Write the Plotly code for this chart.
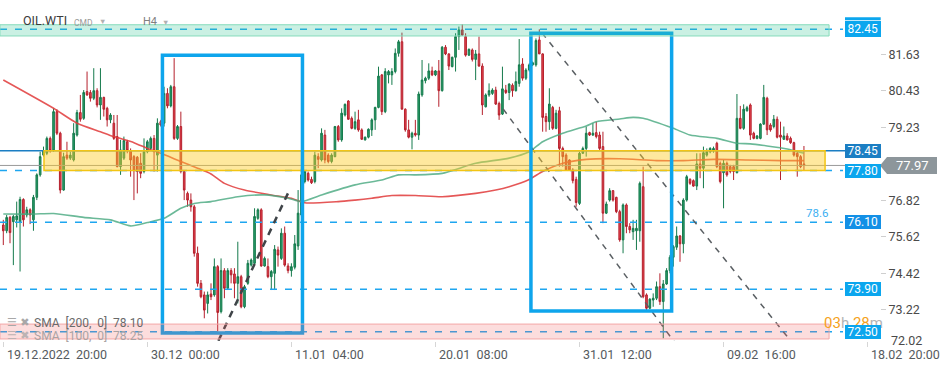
import plotly.graph_objects as go

# ---------------- data ----------------
bar_index = list(range(240))  # H4 bars, 0 = 19.12.2022 20:00

opens = [
    76.01, 75.82, 76.26, 76.12, 76.18, 76.12, 76.85, 76.34, 76.51, 76.18,
    76.92, 77.66, 78.31, 78.37, 78.86, 78.48, 79.74, 79.03, 77.16, 78.31,
    78.21, 78.15, 78.97, 79.71, 79.52, 80.40, 80.37, 80.18, 80.43, 79.96,
    80.21, 79.85, 79.47, 79.36, 78.92, 77.93, 78.21, 78.75, 78.46, 78.26,
    78.24, 78.04, 77.77, 78.42, 78.53, 78.86, 78.31, 79.41, 79.36, 80.34,
    79.93, 80.56, 78.86, 79.25, 77.77, 77.05, 76.83, 76.61, 75.08, 74.09,
    73.71, 73.43, 73.74, 73.71, 74.64, 73.16, 74.51, 73.93, 74.51, 74.40,
    74.09, 74.31, 73.32, 74.09, 74.69, 74.75, 76.23, 76.51, 74.66, 74.64,
    74.31, 74.42, 75.19, 74.91, 75.74, 74.66, 74.51, 74.62, 75.32, 76.34,
    77.44, 77.71, 77.51, 77.44, 78.26, 78.15, 78.97, 78.31, 78.10, 78.26,
    79.25, 78.81, 79.63, 80.09, 79.52, 79.19, 79.47, 79.14, 78.81, 78.90,
    79.14, 79.47, 79.88, 80.95, 79.74, 80.95, 80.95, 81.06, 81.66, 82.04,
    79.82, 79.14, 78.90, 79.03, 78.97, 80.29, 80.76, 80.84, 81.08, 80.95,
    81.08, 80.43, 81.86, 81.64, 81.22, 81.53, 82.21, 82.43, 82.21, 81.60,
    81.77, 81.46, 81.64, 81.24, 79.90, 80.29, 80.34, 80.45, 80.01, 79.66,
    80.45, 80.37, 80.61, 80.43, 80.67, 81.31, 80.84, 81.11, 81.28, 81.28,
    82.10, 81.64, 79.58, 79.41, 79.88, 79.19, 79.77, 78.53, 78.31, 78.15,
    77.82, 77.51, 76.72, 78.37, 78.53, 79.05, 78.97, 79.05, 78.97, 78.59,
    76.40, 76.83, 77.14, 76.92, 76.45, 75.52, 76.67, 75.96, 75.79, 75.82,
    75.82, 77.27, 73.71, 73.27, 73.54, 73.60, 73.98, 73.49, 74.07, 74.51,
    74.95, 75.28, 75.65, 75.39, 76.83, 77.51, 77.47, 77.29, 78.02, 77.88,
    78.31, 78.42, 78.46, 78.70, 78.04, 77.73, 78.04, 77.93, 77.93, 77.73,
    79.52, 79.19, 79.77, 79.96, 79.03, 78.86, 78.86, 79.33, 80.18, 79.30,
    79.25, 79.49, 78.97, 78.83, 78.94, 78.86, 78.72, 78.37, 78.26, 78.02,
]
highs = [
    76.18, 76.34, 76.31, 76.34, 76.78, 76.94, 76.89, 76.61, 76.56, 77.00,
    77.71, 78.42, 78.59, 78.92, 78.92, 79.85, 79.82, 79.08, 78.39, 78.75,
    78.42, 79.36, 79.80, 80.29, 80.45, 81.06, 80.45, 81.17, 80.51, 81.17,
    80.23, 79.90, 79.69, 79.63, 79.63, 78.81, 78.92, 78.81, 78.53, 78.31,
    78.28, 78.37, 78.86, 78.81, 78.92, 78.97, 79.52, 79.47, 80.56, 80.51,
    80.62, 81.50, 79.30, 79.74, 77.82, 77.11, 77.05, 76.67, 75.30, 74.20,
    73.82, 73.82, 74.09, 74.91, 74.69, 74.91, 74.59, 74.59, 74.59, 74.59,
    75.46, 74.37, 74.04, 74.86, 74.91, 76.56, 76.56, 76.56, 74.97, 74.91,
    74.53, 75.35, 75.30, 75.90, 75.96, 74.75, 74.75, 75.68, 77.16, 77.88,
    77.82, 77.77, 77.60, 78.42, 78.37, 79.19, 79.14, 78.37, 78.37, 79.27,
    79.30, 79.85, 80.01, 80.12, 79.58, 79.74, 79.80, 79.19, 78.92, 79.19,
    79.52, 79.90, 81.22, 80.98, 81.17, 81.11, 81.17, 81.82, 82.10, 82.34,
    79.85, 79.47, 79.08, 79.47, 80.40, 81.44, 80.89, 81.33, 81.22, 81.11,
    81.44, 81.90, 81.93, 81.66, 81.55, 82.32, 82.54, 82.62, 82.32, 81.82,
    81.82, 81.77, 82.21, 81.33, 80.34, 80.67, 80.51, 80.56, 80.07, 81.22,
    80.62, 80.67, 80.67, 81.06, 82.13, 81.50, 81.17, 81.33, 81.39, 82.15,
    82.45, 81.66, 79.69, 80.51, 79.93, 79.80, 79.90, 78.59, 78.37, 78.17,
    77.88, 77.60, 78.42, 78.59, 79.25, 79.08, 79.36, 79.41, 79.08, 79.08,
    76.78, 77.22, 77.16, 76.94, 76.51, 76.72, 76.72, 76.07, 76.18, 76.18,
    77.44, 77.93, 73.76, 73.60, 73.76, 74.15, 74.42, 74.20, 74.59, 75.02,
    75.35, 75.96, 75.68, 76.89, 77.66, 77.55, 77.51, 78.37, 78.37, 78.59,
    78.53, 78.57, 78.59, 78.75, 78.10, 78.15, 78.10, 77.99, 77.99, 80.32,
    79.93, 79.98, 79.93, 80.01, 79.08, 78.97, 79.36, 80.62, 80.23, 79.36,
    79.63, 79.58, 79.41, 79.25, 79.03, 78.92, 78.75, 78.42, 78.31, 78.61,
]
lows = [
    75.35, 75.74, 75.41, 74.69, 75.93, 74.48, 75.96, 76.26, 76.04, 75.82,
    76.83, 77.60, 78.26, 78.31, 78.39, 78.42, 78.97, 77.05, 77.14, 78.15,
    78.15, 78.10, 78.92, 79.41, 79.47, 80.26, 80.07, 80.12, 79.88, 79.47,
    79.58, 79.25, 79.36, 78.81, 77.91, 77.66, 78.15, 78.37, 77.60, 76.83,
    77.05, 77.55, 77.71, 78.37, 78.48, 77.77, 77.77, 79.25, 79.25, 79.85,
    79.88, 78.81, 78.81, 77.71, 76.83, 76.61, 76.45, 74.97, 73.98, 73.60,
    72.94, 73.10, 73.54, 73.65, 72.50, 73.10, 73.60, 73.87, 74.09, 73.60,
    73.43, 73.27, 73.27, 74.04, 74.64, 74.69, 76.18, 74.64, 74.64, 74.26,
    73.87, 73.87, 74.64, 74.86, 74.64, 74.42, 74.31, 74.55, 75.19, 76.29,
    77.38, 77.44, 77.36, 77.38, 77.88, 78.10, 78.04, 78.04, 78.04, 78.24,
    78.75, 78.75, 79.58, 79.47, 79.16, 79.14, 79.08, 78.81, 78.79, 78.86,
    78.94, 79.14, 79.85, 79.63, 79.69, 80.67, 80.62, 81.00, 81.55, 79.82,
    79.08, 78.86, 78.50, 78.92, 78.81, 80.23, 80.67, 80.78, 80.91, 80.91,
    79.90, 80.40, 81.60, 81.11, 81.20, 81.06, 81.77, 82.23, 81.55, 81.57,
    81.39, 80.78, 81.22, 79.63, 79.88, 80.23, 80.29, 79.96, 79.47, 79.63,
    80.32, 80.12, 80.23, 80.40, 80.56, 80.76, 80.78, 81.06, 81.24, 81.22,
    81.64, 79.08, 79.08, 79.14, 79.14, 79.16, 77.93, 77.93, 77.80, 77.80,
    77.38, 76.61, 76.67, 78.35, 78.26, 78.94, 78.94, 78.86, 78.48, 76.07,
    76.37, 76.78, 76.78, 76.40, 75.46, 75.08, 75.74, 75.74, 75.52, 75.19,
    75.46, 73.60, 73.21, 73.24, 73.32, 73.54, 73.38, 72.28, 74.04, 74.42,
    74.64, 75.19, 74.80, 75.08, 76.78, 77.33, 77.27, 77.16, 77.55, 77.22,
    78.26, 78.37, 78.39, 77.88, 77.38, 76.56, 77.60, 77.71, 77.49, 77.71,
    79.16, 79.14, 79.74, 78.81, 78.83, 78.83, 78.83, 79.30, 78.97, 79.08,
    79.19, 78.86, 77.49, 78.81, 78.79, 78.68, 78.26, 77.60, 77.88, 77.82,
]
closes = [
    75.82, 76.26, 75.76, 76.29, 76.31, 76.85, 76.18, 76.51, 76.34, 76.92,
    77.66, 78.26, 78.46, 78.86, 78.46, 79.74, 79.03, 77.16, 78.26, 78.21,
    78.31, 79.03, 79.71, 79.49, 80.37, 80.29, 80.18, 80.43, 79.96, 80.21,
    79.82, 79.47, 79.63, 78.86, 77.93, 78.48, 78.79, 78.46, 78.15, 77.80,
    77.77, 77.71, 78.42, 78.75, 78.86, 78.42, 79.36, 79.30, 80.34, 79.93,
    80.56, 78.86, 79.25, 77.77, 77.16, 76.83, 76.61, 75.08, 74.09, 73.65,
    73.21, 73.71, 73.65, 74.64, 73.13, 74.51, 73.93, 74.51, 74.37, 74.09,
    74.31, 73.32, 73.98, 74.75, 74.86, 76.29, 76.51, 74.66, 74.91, 74.31,
    74.48, 75.21, 75.02, 75.74, 74.69, 74.51, 74.64, 75.39, 76.40, 77.66,
    77.77, 77.49, 77.40, 78.31, 78.17, 79.03, 78.15, 78.10, 78.31, 79.25,
    78.81, 79.69, 79.98, 79.49, 79.19, 79.41, 79.14, 78.83, 78.90, 79.16,
    79.47, 79.88, 80.91, 79.74, 81.06, 81.06, 81.06, 81.66, 82.04, 79.82,
    79.14, 78.90, 79.03, 78.97, 80.32, 80.78, 80.84, 81.08, 80.95, 81.08,
    80.43, 81.86, 81.64, 81.24, 81.53, 82.21, 82.43, 82.26, 81.60, 81.79,
    81.46, 81.64, 81.24, 79.96, 80.29, 80.43, 80.45, 79.99, 79.63, 80.49,
    80.37, 80.65, 80.43, 80.73, 81.28, 80.84, 81.11, 81.28, 81.35, 82.08,
    81.64, 79.55, 79.41, 79.99, 79.19, 79.69, 78.53, 78.26, 77.82, 77.82,
    77.47, 76.75, 78.37, 78.53, 79.03, 78.97, 79.03, 78.92, 78.53, 76.40,
    76.70, 77.14, 76.83, 76.45, 75.52, 76.67, 75.96, 75.85, 75.90, 75.90,
    77.38, 73.65, 73.27, 73.57, 73.60, 73.98, 73.49, 74.07, 74.51, 74.95,
    75.30, 75.65, 75.39, 76.83, 77.60, 77.38, 77.29, 78.02, 77.88, 78.39,
    78.42, 78.53, 78.53, 77.93, 77.44, 78.04, 77.66, 77.77, 77.77, 79.52,
    79.19, 79.82, 79.87, 78.97, 78.86, 78.94, 79.33, 80.21, 79.14, 79.14,
    79.49, 78.90, 78.90, 78.94, 78.81, 78.72, 78.31, 78.26, 77.93, 77.97,
]

# moving averages (bar index, value)
sma200_idx = [0, 15, 22, 29, 33, 39, 43, 47, 53, 58, 62, 66, 72, 80, 86, 90, 100, 105, 110,
              116, 123, 131, 141, 147, 151, 157, 161, 167, 174, 184, 195, 203, 212, 222, 232, 239]
sma200_val = [80.78, 79.85, 79.36, 79.08, 78.92, 78.72, 78.53, 78.37, 78.10, 77.88, 77.69, 77.38,
              77.16, 77.00, 76.89, 76.74, 76.78, 76.83, 76.89, 76.98, 76.98, 76.94, 77.05, 77.16,
              77.27, 77.51, 77.77, 78.04, 78.17, 78.19, 78.13, 78.13, 78.17, 78.15, 78.13, 78.13]
sma100_idx = [0, 9, 15, 24, 32, 38, 43, 48, 53, 57, 62, 70, 78, 85, 89, 95, 105, 113, 118, 123,
              131, 141, 151, 157, 161, 167, 174, 177, 184, 188, 191, 200, 205, 213, 219, 223, 228,
              234, 239]
sma100_val = [76.37, 76.37, 76.39, 76.26, 76.18, 75.98, 76.09, 76.23, 76.56, 76.72, 76.78, 76.94,
              77.00, 76.89, 76.78, 77.00, 77.33, 77.49, 77.66, 77.66, 77.71, 78.04, 78.21, 78.42,
              78.75, 79.03, 79.27, 79.41, 79.50, 79.55, 79.52, 79.19, 78.97, 78.86, 78.70, 78.68,
              78.61, 78.51, 78.37]

# axis ticks
time_tick_idx = [0, 43, 86, 129, 172, 215, 258]
time_tick_text = ["19.12.2022\u00a0\u00a020:00", "30.12\u00a0\u00a000:00", "11.01\u00a0\u00a004:00",
                  "20.01\u00a0\u00a008:00", "31.01\u00a0\u00a012:00", "09.02\u00a0\u00a016:00",
                  "18.02\u00a0\u00a020:00"]
price_ticks = [73.22, 74.42, 75.62, 76.82, 79.23, 80.43, 81.63]
bottom_price_label = "72.02"  # pinned at the lower edge of the price scale

# drawn price levels
level_values = [82.45, 78.45, 77.80, 76.10, 73.90, 72.50]
last_price = 77.97
zone_support = (77.80, 78.45)
zone_top = (82.23, 82.60)
zone_bottom = (72.26, 72.75)
box1 = (47.5, 89.3, 72.46, 81.60)
box2 = (157.5, 199.5, 73.18, 82.32)
trend_up = ([64.2, 85.0], [72.20, 77.06])
trend_down_a = ([160.8, 234.8], [82.33, 72.23])
trend_down_b = ([149.2, 200.5], [79.83, 72.13])
fib_label = "78.6"
sma_legend = ["SMA\u00a0\u00a0[200,\u00a0\u00a00]\u00a0\u00a078.10", "SMA\u00a0\u00a0[100,\u00a0\u00a00]\u00a0\u00a078.25"]

# ---------------- layout geometry ----------------
PLOT_W, PLOT_H = 880, 341
X_RANGE = [-0.985, 261.7]
Y_RANGE = [72.193, 83.414]


def pxx(x):
    return x / PLOT_W


def pxy(y):
    return 1 - y / PLOT_H


FONT = "Roboto, 'Open Sans', Arial, sans-serif"
BLUE = "#0ba6ee"
DARK_BLUE = "#1b7ec3"
MID_BLUE = "#1390e6"

fig = go.Figure()

fig.add_trace(go.Candlestick(
    x=bar_index, open=opens, high=highs, low=lows, close=closes,
    increasing=dict(line=dict(color="#157a4c", width=1), fillcolor="#2a9d6b"),
    decreasing=dict(line=dict(color="#b5202c", width=1), fillcolor="#e5434f"),
    whiskerwidth=0, hoverinfo="skip", showlegend=False,
))
fig.add_trace(go.Scatter(x=sma200_idx, y=sma200_val, mode="lines",
                         line=dict(color="rgba(224,58,58,0.85)", width=1.6, shape="spline", smoothing=0.6),
                         hoverinfo="skip", showlegend=False))
fig.add_trace(go.Scatter(x=sma100_idx, y=sma100_val, mode="lines",
                         line=dict(color="rgba(70,168,126,0.8)", width=1.6, shape="spline", smoothing=0.6),
                         hoverinfo="skip", showlegend=False))

shapes = []
# horizontal levels (below the zones)
line_end = pxx(843)
for v in level_values:
    if v == 78.45:
        shapes.append(dict(type="line", xref="paper", yref="y", x0=0, x1=pxx(845), y0=v, y1=v,
                           line=dict(color=DARK_BLUE, width=1.5), layer="above"))
    else:
        shapes.append(dict(type="line", xref="paper", yref="y", x0=0, x1=line_end, y0=v, y1=v,
                           line=dict(color="#1ea6f0", width=1.5, dash="7px,8px"), layer="above"))
shapes.append(dict(type="line", xref="paper", yref="y", x0=0, x1=1, y0=last_price, y1=last_price,
                   line=dict(color="#9a9a9a", width=1), layer="above"))
# trend lines
for (xs, ys), col, w, d in [(trend_up, "#3f4448", 2.5, "7px,6px"),
                            (trend_down_a, "#5a5f63", 1.5, "6px,6px"),
                            (trend_down_b, "#5a5f63", 1.5, "6px,6px")]:
    shapes.append(dict(type="line", xref="x", yref="y", x0=xs[0], x1=xs[1], y0=ys[0], y1=ys[1],
                       line=dict(color=col, width=w, dash=d), layer="above"))
# yellow support zone
shapes.append(dict(type="rect", xref="x", yref="y", x0=12.15, x1=245.3, y0=zone_support[0], y1=zone_support[1],
                   fillcolor="rgba(252,205,40,0.45)", line=dict(color="#f2c414", width=1.5), layer="above"))
# blue boxes
for bx in (box1, box2):
    shapes.append(dict(type="rect", xref="x", yref="y", x0=bx[0], x1=bx[1], y0=bx[2], y1=bx[3],
                       fillcolor="rgba(0,0,0,0)", line=dict(color="#0ea5ec", width=3.5), layer="above"))
# top and bottom zones
shapes.append(dict(type="rect", xref="x", yref="y", x0=-1, x1=246.5, y0=zone_top[0], y1=zone_top[1],
                   fillcolor="rgba(60,200,150,0.27)", line=dict(color="#86dcbb", width=1), layer="above"))
shapes.append(dict(type="rect", xref="x", yref="y", x0=-1, x1=246.5, y0=zone_bottom[0], y1=zone_bottom[1],
                   fillcolor="rgba(240,100,100,0.22)", line=dict(color="#f3a7a7", width=1), layer="above"))
# strip above the 82.45 label
shapes.append(dict(type="rect", xref="paper", yref="paper", x0=pxx(845), x1=pxx(880.7),
                   y0=pxy(20.3), y1=pxy(17.3), fillcolor=BLUE, line=dict(width=0), layer="above"))
# current price tag
half = 8.5 / 30.39
tag_path = (f"M {pxx(880)} {last_price} L {pxx(887)} {last_price + half} L {pxx(937)} {last_price + half} "
            f"L {pxx(937)} {last_price - half} L {pxx(887)} {last_price - half} Z")
shapes.append(dict(type="path", xref="paper", yref="y", path=tag_path,
                   fillcolor="#8d969b", line=dict(width=0), layer="above"))

annotations = []
# header
annotations += [
    dict(text="OIL.WTI", x=pxx(20.5), y=pxy(20.5), xanchor="left", yanchor="middle",
         font=dict(size=12.5, color="#3c3c3c", family=FONT)),
    dict(text="CMD", x=pxx(71.5), y=pxy(23), xanchor="left", yanchor="middle",
         font=dict(size=8.5, color="#9a9a9a", family=FONT)),
    dict(text="▼", x=pxx(96.5), y=pxy(21.5), xanchor="left", yanchor="middle",
         font=dict(size=7.5, color="#b0b0b0", family=FONT)),
    dict(text="H4", x=pxx(140.5), y=pxy(22), xanchor="left", yanchor="middle",
         font=dict(size=11, color="#808080", family=FONT)),
    dict(text="▼", x=pxx(159.5), y=pxy(23), xanchor="left", yanchor="middle",
         font=dict(size=7.5, color="#b0b0b0", family=FONT)),
]
# SMA legend
annotations += [
    dict(text="☰ ✖", x=pxx(5), y=pxy(322.5), xanchor="left", yanchor="middle",
         font=dict(size=11, color="#a8a8a8", family="DejaVu Sans")),
    dict(text=sma_legend[0], x=pxx(31.5), y=pxy(323), xanchor="left", yanchor="middle",
         font=dict(size=12, color="#6a6a6a", family=FONT)),
    dict(text="☰ ✖", x=pxx(5), y=pxy(335.5), xanchor="left", yanchor="middle",
         font=dict(size=11, color="#bdb3b3", family="DejaVu Sans")),
    dict(text=sma_legend[1], x=pxx(31.5), y=pxy(336), xanchor="left", yanchor="middle",
         font=dict(size=12, color="#aaa3a3", family=FONT)),
]
# fib label and countdown
annotations.append(dict(text=fib_label, x=pxx(803.5), y=pxy(213), xanchor="left", yanchor="middle",
                        font=dict(size=11.5, color="#3db0f2", family=FONT)))
annotations.append(dict(
    text="<span style='color:#f5a21b'>03</span><span style='color:#b4b4b4'>h</span> "
         "<span style='color:#f5a21b'>28</span><span style='color:#b4b4b4'>m</span>",
    x=pxx(822), y=pxy(322.5), xanchor="left", yanchor="middle",
    font=dict(size=15, color="#f5a21b", family=FONT)))
# level labels
for v in level_values:
    col = DARK_BLUE if v == 78.45 else (MID_BLUE if v == 76.10 else BLUE)
    h = 16 if v == 82.45 else 14
    annotations.append(dict(text=f"{v:.2f}", xref="paper", yref="y", x=pxx(880.7), y=v,
                            xanchor="right", yanchor="middle", width=35.5, height=h,
                            bgcolor=col, borderpad=0, borderwidth=0,
                            font=dict(size=12, color="white", family=FONT)))
annotations.append(dict(text=f"{last_price:.2f}", xref="paper", yref="y", x=pxx(912), y=last_price,
                        xanchor="center", yanchor="middle",
                        font=dict(size=13, color="white", family=FONT)))
# bottom price-scale label
annotations.append(dict(text=bottom_price_label, x=pxx(888.5), y=pxy(340), xanchor="left", yanchor="middle",
                        font=dict(size=12.5, color="#4a4a4a", family=FONT)))
# time axis labels (left aligned after each tick)
for xi, txt in zip(time_tick_idx, time_tick_text):
    annotations.append(dict(text=txt, xref="x", yref="paper", x=xi, y=0, xanchor="left", yanchor="top",
                            xshift=1.5, yshift=-4, font=dict(size=12.5, color="#555a5e", family=FONT)))

for a in annotations:
    a.setdefault("xref", "paper")
    a.setdefault("yref", "paper")
    a["showarrow"] = False

fig.update_layout(
    width=949, height=370,
    margin=dict(l=0, r=69, t=0, b=29),
    paper_bgcolor="white", plot_bgcolor="white",
    showlegend=False,
    font=dict(family=FONT),
    shapes=shapes, annotations=annotations,
    xaxis=dict(range=X_RANGE, showgrid=False, zeroline=False, showline=False,
               tickvals=time_tick_idx, ticks="outside", ticklen=5, tickcolor="#d6d6d6",
               showticklabels=False, rangeslider=dict(visible=False), fixedrange=True),
    yaxis=dict(range=Y_RANGE, side="right", showgrid=False, zeroline=False, showline=False,
               tickvals=price_ticks, ticktext=[f"{t:.2f}" for t in price_ticks],
               ticks="outside", ticklen=5, tickcolor="#cfcfcf",
               tickfont=dict(size=12.5, color="#4a4a4a", family=FONT), fixedrange=True),
)

fig.write_html("out.html", config={"displayModeBar": False},
               post_script="document.body.style.margin='0';document.body.style.overflow='hidden';")
